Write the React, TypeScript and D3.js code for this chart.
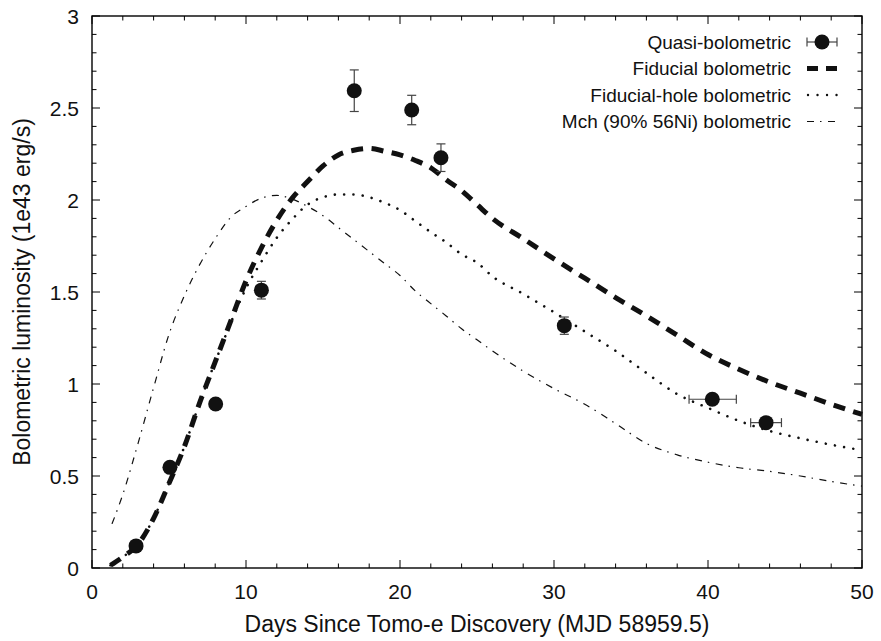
import React, { useEffect, useRef } from 'react'
import * as d3 from 'd3'

// model light curves, sampled off the figure
const modelDays = [1.2, 2, 3, 4, 5, 6, 7, 8, 9, 10, 11, 12, 13, 14, 15, 16, 17, 18, 19, 20, 21, 22, 23, 24, 25, 26, 28, 30, 32, 34, 36, 38, 40, 42, 44, 46, 48, 50]
const fiducialLum = [0.015, 0.06, 0.13, 0.27, 0.46, 0.66, 0.9, 1.12, 1.34, 1.56, 1.74, 1.89, 2.01, 2.1, 2.185, 2.245, 2.27, 2.28, 2.265, 2.245, 2.215, 2.175, 2.11, 2.05, 1.975, 1.9, 1.79, 1.68, 1.575, 1.47, 1.37, 1.265, 1.16, 1.08, 1.01, 0.95, 0.89, 0.835]
const holeLum = [0.015, 0.06, 0.13, 0.27, 0.46, 0.66, 0.9, 1.12, 1.33, 1.52, 1.665, 1.795, 1.895, 1.975, 2.015, 2.03, 2.03, 2.015, 1.985, 1.945, 1.885, 1.825, 1.77, 1.705, 1.66, 1.585, 1.49, 1.39, 1.285, 1.18, 1.06, 0.945, 0.87, 0.8, 0.745, 0.705, 0.67, 0.64]
const mchDays = [1.3, 2, 3, 4, 5, 6, 7, 8, 9, 10, 11, 12, 13, 14, 15, 16, 17, 18, 19, 20, 21, 22, 23, 24, 25, 26, 28, 30, 32, 34, 36, 38, 40, 42, 44, 46, 48, 50]
const mchLum = [0.24, 0.4, 0.68, 0.98, 1.27, 1.48, 1.65, 1.79, 1.905, 1.965, 2.01, 2.025, 2.005, 1.965, 1.915, 1.85, 1.785, 1.72, 1.655, 1.59, 1.505, 1.437, 1.37, 1.3, 1.24, 1.18, 1.07, 0.975, 0.89, 0.785, 0.677, 0.615, 0.575, 0.545, 0.525, 0.5, 0.47, 0.445]

// quasi-bolometric points
const obsDays = [2.86, 5.06, 8.03, 11.0, 17.03, 20.76, 22.66, 30.67, 40.28, 43.77]
const obsLum = [0.12, 0.547, 0.891, 1.51, 2.594, 2.489, 2.23, 1.317, 0.917, 0.79]
const obsLumErr = [0.01, 0.01, 0.01, 0.048, 0.113, 0.08, 0.075, 0.047, 0.01, 0.01]
const obsDayErrLo = [0, 0, 0, 0, 0, 0, 0, 0, 1.51, 1.0]
const obsDayErrHi = [0, 0, 0, 0, 0, 0, 0, 0, 1.56, 1.0]

const xTicks = [0, 10, 20, 30, 40, 50]
const yTicks = [0, 0.5, 1, 1.5, 2, 2.5, 3]
const legendLabels = ['Quasi-bolometric', 'Fiducial bolometric', 'Fiducial-hole bolometric', 'Mch (90% 56Ni) bolometric']

const W = 881, H = 641
const margin = { left: 92, right: 19, top: 16, bottom: 73 }
const FONT = '"Liberation Sans", Arial, Helvetica, sans-serif'

export default function App() {
  const ref = useRef<SVGSVGElement>(null)

  useEffect(() => {
    const svg = d3.select(ref.current)
    svg.selectAll('*').remove()
    const width = W - margin.left - margin.right
    const height = H - margin.top - margin.bottom

    const x = d3.scaleLinear().domain([0, 50]).range([margin.left, margin.left + width])
    const y = d3.scaleLinear().domain([0, 3]).range([margin.top + height, margin.top])
    const x0 = margin.left, x1 = margin.left + width, y0 = margin.top + height, y1 = margin.top

    // ticks, inward on all four sides
    const ticks = svg.append('g').attr('stroke', '#000').attr('stroke-width', 1)
    d3.range(0, 50.01, 2).forEach((d) => {
      const len = d % 10 === 0 ? 8 : 4.5
      ticks.append('line').attr('x1', x(d)).attr('x2', x(d)).attr('y1', y0).attr('y2', y0 - len)
      ticks.append('line').attr('x1', x(d)).attr('x2', x(d)).attr('y1', y1).attr('y2', y1 + len)
    })
    d3.range(0, 30.01, 1).forEach((i) => {
      const d = i / 10
      const len = i % 5 === 0 ? 8 : 4.5
      ticks.append('line').attr('x1', x0).attr('x2', x0 + len).attr('y1', y(d)).attr('y2', y(d))
      ticks.append('line').attr('x1', x1).attr('x2', x1 - len).attr('y1', y(d)).attr('y2', y(d))
    })

    svg.append('rect').attr('x', x0).attr('y', y1).attr('width', width).attr('height', height)
      .attr('fill', 'none').attr('stroke', '#000').attr('stroke-width', 1.4)

    const labels = svg.append('g').attr('font-family', FONT).attr('fill', '#111')
    labels.selectAll('.xt').data(xTicks).join('text')
      .attr('x', (d) => x(d)).attr('y', y0 + 31).attr('text-anchor', 'middle')
      .attr('font-size', 21).text((d) => d)
    labels.selectAll('.yt').data(yTicks).join('text')
      .attr('x', x0 - 13).attr('y', (d) => y(d)).attr('dy', '0.36em').attr('text-anchor', 'end')
      .attr('font-size', 21).text((d) => d)

    labels.append('text').attr('x', (x0 + x1) / 2).attr('y', 632).attr('text-anchor', 'middle')
      .attr('font-size', 23).text('Days Since Tomo-e Discovery (MJD 58959.5)')
    labels.append('text').attr('transform', `translate(22,${(y0 + y1) / 2}) rotate(-90)`)
      .attr('dy', '0.36em').attr('text-anchor', 'middle')
      .attr('font-size', 23).text('Bolometric luminosity (1e43 erg/s)')

    const plot = svg.append('g')
    const line = d3.line<[number, number]>().x((d) => x(d[0])).y((d) => y(d[1])).curve(d3.curveMonotoneX)

    plot.append('path').attr('d', line(mchDays.map((d, i) => [d, mchLum[i]])))
      .attr('fill', 'none').attr('stroke', '#111').attr('stroke-width', 1.2)
      .attr('stroke-dasharray', '7,6,1.5,6.5')
    plot.append('path').attr('d', line(modelDays.map((d, i) => [d, holeLum[i]])))
      .attr('fill', 'none').attr('stroke', '#111').attr('stroke-width', 2.6)
      .attr('stroke-linecap', 'round').attr('stroke-dasharray', '0.01,9.3')
    plot.append('path').attr('d', line(modelDays.map((d, i) => [d, fiducialLum[i]])))
      .attr('fill', 'none').attr('stroke', '#111').attr('stroke-width', 5)
      .attr('stroke-dasharray', '12,8.5')

    // error bars then markers
    const errColor = '#444'
    obsDays.forEach((d, i) => {
      const cx = x(d), cy = y(obsLum[i])
      const e = obsLumErr[i]
      if (e > 0.02) {
        plot.append('line').attr('x1', cx).attr('x2', cx).attr('y1', y(obsLum[i] - e)).attr('y2', y(obsLum[i] + e))
          .attr('stroke', errColor).attr('stroke-width', 1.2)
        ;[obsLum[i] - e, obsLum[i] + e].forEach((v) => {
          plot.append('line').attr('x1', cx - 4.5).attr('x2', cx + 4.5).attr('y1', y(v)).attr('y2', y(v))
            .attr('stroke', errColor).attr('stroke-width', 1.2)
        })
      }
      if (obsDayErrLo[i] > 0) {
        const xl = x(d - obsDayErrLo[i]), xr = x(d + obsDayErrHi[i])
        plot.append('line').attr('x1', xl).attr('x2', xr).attr('y1', cy).attr('y2', cy)
          .attr('stroke', errColor).attr('stroke-width', 1.2)
        ;[xl, xr].forEach((v) => {
          plot.append('line').attr('x1', v).attr('x2', v).attr('y1', cy - 4.5).attr('y2', cy + 4.5)
            .attr('stroke', errColor).attr('stroke-width', 1.2)
        })
      }
      plot.append('circle').attr('cx', cx).attr('cy', cy).attr('r', 7.5).attr('fill', '#111')
    })

    // legend
    const leg = svg.append('g').attr('font-family', FONT)
    const rowY = [42, 68.5, 95, 121.5]
    const sx0 = 807, sx1 = 837
    legendLabels.forEach((t, i) => {
      leg.append('text').attr('x', 791).attr('y', rowY[i]).attr('dy', '0.36em').attr('text-anchor', 'end')
        .attr('font-size', 19).attr('fill', '#111').text(t)
    })
    leg.append('line').attr('x1', sx0).attr('x2', sx1).attr('y1', rowY[0]).attr('y2', rowY[0]).attr('stroke', errColor).attr('stroke-width', 1.2)
    ;[sx0, sx1].forEach((v) => {
      leg.append('line').attr('x1', v).attr('x2', v).attr('y1', rowY[0] - 4.5).attr('y2', rowY[0] + 4.5).attr('stroke', errColor).attr('stroke-width', 1.2)
    })
    leg.append('circle').attr('cx', (sx0 + sx1) / 2).attr('cy', rowY[0]).attr('r', 7.5).attr('fill', '#111')
    leg.append('line').attr('x1', sx0).attr('x2', sx1).attr('y1', rowY[1]).attr('y2', rowY[1])
      .attr('stroke', '#111').attr('stroke-width', 5).attr('stroke-dasharray', '11,8')
    leg.append('line').attr('x1', sx0 + 1).attr('x2', sx1).attr('y1', rowY[2]).attr('y2', rowY[2])
      .attr('stroke', '#111').attr('stroke-width', 2.4).attr('stroke-linecap', 'round').attr('stroke-dasharray', '0.01,9.5')
    leg.append('line').attr('x1', sx0).attr('x2', sx1).attr('y1', rowY[3]).attr('y2', rowY[3])
      .attr('stroke', '#111').attr('stroke-width', 1.2).attr('stroke-dasharray', '7,6,1.5,6.5')
  }, [])

  return (
    <svg ref={ref} width={W} height={H}
      style={{ position: 'absolute', left: 0, top: 0, background: '#fff', display: 'block' }} />
  )
}
